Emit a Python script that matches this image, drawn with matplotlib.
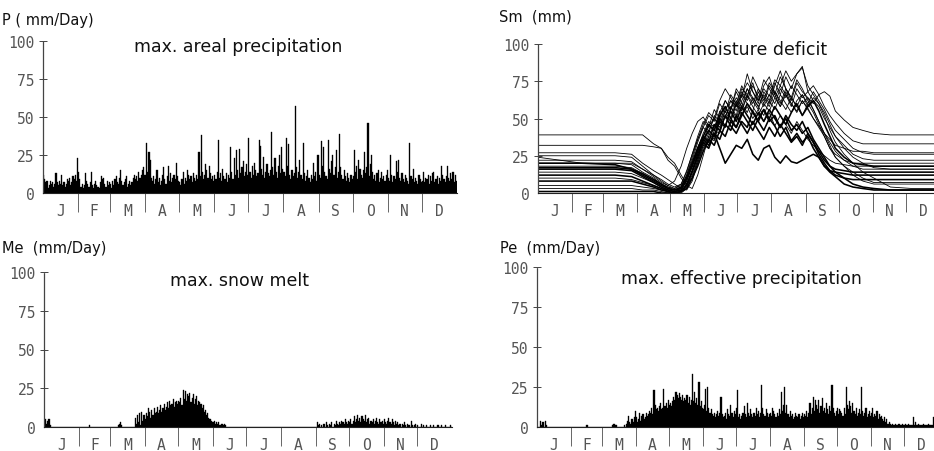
#!/usr/bin/env python3
"""Daily maxima of areal precipitation, snow melt, effective precipitation
and the soil moisture deficit traces, drawn as four panels."""

import numpy as np
import matplotlib
matplotlib.use("Agg")
import matplotlib.pyplot as plt

FIG_W, FIG_H = 934, 452

MONTHS = ['J', 'F', 'M', 'A', 'M', 'J', 'J', 'A', 'S', 'O', 'N', 'D']
MONTH_DAYS = [31, 28, 31, 30, 31, 30, 31, 31, 30, 31, 30, 31]
Y_TICKS = [0, 25, 50, 75, 100]

# max. areal precipitation (mm/day), one list per month
precip = [
    [12, 9, 7, 8, 3, 5, 8, 6, 7, 4, 6, 13, 7, 5, 8, 6, 12, 5, 7, 4, 6, 9, 8, 10, 5, 7, 11, 9, 12, 8, 23],
    [14, 9, 4, 6, 3, 5, 13, 8, 6, 4, 7, 14, 5, 3, 6, 8, 5, 4, 3, 7, 11, 9, 10, 6, 4, 8, 5, 7],
    [6, 3, 8, 5, 9, 11, 7, 6, 10, 15, 8, 5, 7, 9, 11, 4, 6, 8, 5, 7, 10, 12, 9, 11, 8, 14, 10, 12, 15, 17, 12],
    [12, 33, 14, 27, 22, 10, 8, 11, 6, 9, 15, 7, 10, 5, 8, 12, 17, 9, 6, 11, 18, 8, 13, 7, 10, 12, 9, 20, 11, 8],
    [7, 5, 9, 14, 6, 10, 8, 15, 12, 9, 11, 7, 13, 10, 8, 12, 9, 27, 11, 38, 14, 9, 12, 19, 15, 10, 18, 13, 9, 11, 8],
    [12, 9, 14, 35, 10, 13, 8, 16, 11, 9, 13, 7, 12, 10, 30, 14, 9, 23, 12, 28, 15, 10, 29, 13, 17, 21, 11, 14, 19, 12],
    [36, 14, 10, 18, 12, 20, 15, 11, 13, 35, 31, 16, 12, 24, 10, 14, 19, 13, 11, 15, 40, 17, 12, 23, 14, 10, 18, 25, 13, 30, 16],
    [14, 11, 36, 18, 32, 12, 9, 15, 11, 13, 57, 17, 10, 14, 22, 12, 9, 33, 13, 8, 11, 15, 10, 7, 12, 9, 20, 11, 14, 8, 25],
    [12, 10, 34, 18, 30, 14, 11, 9, 35, 16, 13, 21, 25, 12, 17, 28, 10, 14, 39, 17, 12, 9, 15, 11, 8, 13, 10, 7, 12, 9],
    [11, 28, 14, 18, 9, 22, 16, 12, 10, 15, 27, 13, 17, 46, 11, 19, 25, 14, 9, 12, 8, 13, 15, 7, 10, 14, 9, 11, 8, 12, 15],
    [10, 8, 25, 12, 7, 11, 9, 21, 14, 22, 10, 8, 13, 9, 7, 12, 10, 8, 6, 33, 11, 9, 16, 7, 10, 8, 6, 12, 9, 7],
    [8, 14, 7, 10, 9, 12, 6, 11, 8, 13, 14, 7, 9, 11, 6, 10, 8, 18, 12, 9, 7, 11, 18, 10, 8, 13, 9, 14, 7, 12, 8],
]

# max. snow melt (mm/day)
melt = [
    [4, 5, 2, 4, 5, 1] + [0] * 25,
    [0] * 9 + [1] + [0] * 18,
    [0] * 7 + [1, 2, 3, 1, 0] + [0] * 10 + [6, 2, 8, 3, 9, 1, 10, 4, 8],
    [5, 9, 7, 12, 10, 6, 11, 8, 12, 9, 10, 13, 9, 11, 14, 10, 12, 15, 11, 13, 16, 12, 17, 14, 15, 18, 13, 16, 17, 15],
    [17, 16, 19, 14, 24, 18, 23, 17, 21, 20, 22, 16, 19, 21, 15, 18, 20, 14, 17, 16, 15, 12, 14, 10, 11, 8, 9, 6, 5, 4, 3],
    [3, 4, 2, 3, 2, 3, 1, 2, 2, 1, 2, 1] + [0] * 18,
    [0] * 31,
    [0] * 31,
    [0, 3, 1, 2, 0, 1, 0, 2, 0, 3, 1, 0, 2, 1, 3, 0, 2, 1, 4, 2, 1, 3, 2, 4, 3, 2, 5, 3, 2, 4],
    [3, 5, 2, 4, 7, 3, 5, 8, 4, 6, 3, 7, 5, 4, 8, 3, 5, 6, 2, 4, 3, 5, 2, 4, 6, 3, 2, 5, 3, 4, 2],
    [5, 3, 2, 4, 6, 3, 2, 5, 3, 1, 4, 2, 3, 1, 2, 0, 2, 1, 3, 1, 0, 2, 1, 0, 4, 1, 0, 1, 2, 0],
    [1, 0, 0, 2, 0, 1, 0, 0, 1, 0, 0, 1, 0, 0, 1, 0, 0, 0, 1, 0, 0, 1, 0, 0, 0, 1, 0, 0, 0, 1, 0],
]

# max. effective precipitation (mm/day)
eff_precip = [
    [0, 0, 0, 4, 1, 3, 0, 4, 1] + [0] * 22,
    [0] * 14 + [1] + [0] * 13,
    [0] * 9 + [1, 2, 2, 1, 1] + [0] * 6 + [1, 0, 2, 4, 7, 3, 2, 5, 3, 6, 10],
    [6, 3, 5, 9, 4, 7, 8, 5, 6, 9, 7, 8, 10, 9, 12, 8, 23, 14, 11, 12, 10, 13, 15, 11, 12, 24, 13, 15, 12, 17],
    [14, 15, 13, 16, 19, 17, 22, 20, 18, 21, 19, 17, 20, 16, 18, 17, 20, 15, 19, 14, 17, 33, 16, 22, 15, 18, 14, 28, 13, 16, 12],
    [11, 14, 24, 10, 25, 12, 9, 11, 8, 7, 9, 6, 8, 10, 7, 9, 19, 8, 6, 7, 9, 5, 11, 8, 7, 14, 9, 6, 10, 8],
    [12, 23, 6, 8, 5, 7, 9, 13, 8, 6, 15, 9, 7, 11, 8, 6, 9, 7, 12, 8, 10, 6, 9, 26, 12, 8, 7, 11, 9, 6, 8],
    [9, 7, 12, 10, 8, 6, 9, 7, 11, 8, 22, 10, 14, 25, 9, 14, 8, 6, 10, 7, 8, 5, 6, 9, 7, 6, 8, 5, 7, 9, 6],
    [8, 7, 10, 6, 9, 15, 8, 12, 19, 10, 17, 14, 11, 17, 9, 13, 18, 10, 12, 9, 15, 11, 8, 13, 10, 26, 12, 9, 7, 10],
    [12, 8, 11, 10, 9, 7, 12, 8, 25, 14, 11, 16, 13, 9, 15, 10, 8, 12, 7, 9, 11, 8, 25, 10, 7, 9, 12, 6, 8, 10, 7],
    [9, 12, 6, 8, 7, 10, 5, 8, 6, 7, 5, 4, 6, 3, 5, 2, 3, 2, 1, 2, 1, 1, 2, 1, 1, 2, 1, 1, 2, 1],
    [1, 2, 1, 1, 2, 1, 1, 1, 6, 1, 3, 1, 1, 2, 1, 1, 1, 2, 1, 1, 1, 1, 2, 1, 1, 1, 6, 1, 1, 2, 1],
]

# soil moisture deficit traces (mm), read at these days of the year
sm_days = [0, 40, 70, 85, 95, 105, 112, 118, 124, 130, 135, 140, 145, 150, 155,
           160, 165, 170, 175, 180, 185, 190, 195, 200, 205, 210, 215, 220, 225,
           230, 235, 240, 245, 250, 255, 260, 265, 270, 278, 286, 295, 305, 320,
           340, 365]

sm_thin = [
    [39, 39, 39, 39, 39, 33, 30, 24, 20, 12, 6, 10, 22, 35, 45, 42, 55, 50, 62, 58, 70, 66, 74, 62, 70, 65, 76, 72, 82, 75, 80, 85, 68, 72, 66, 68, 65, 55, 49, 44, 42, 40, 39, 39, 39],
    [32, 32, 32, 32, 32, 31, 30, 22, 18, 10, 5, 3, 12, 25, 38, 35, 48, 44, 58, 52, 66, 60, 55, 68, 60, 72, 66, 78, 70, 62, 74, 68, 64, 60, 66, 58, 52, 47, 40, 35, 33, 33, 33, 33, 33],
    [27, 27, 27, 26, 20, 15, 12, 9, 6, 3, 2, 8, 20, 32, 30, 42, 40, 52, 48, 60, 55, 65, 58, 52, 60, 55, 64, 58, 66, 60, 55, 62, 57, 50, 45, 40, 36, 32, 30, 28, 28, 27, 27, 27, 27],
    [25, 25, 25, 24, 18, 12, 8, 5, 8, 18, 30, 40, 48, 51, 45, 50, 44, 55, 48, 60, 52, 58, 50, 56, 48, 54, 45, 52, 46, 40, 48, 42, 36, 32, 28, 25, 22, 20, 19, 18, 18, 18, 18, 18, 18],
    [18, 18, 18, 17, 13, 9, 6, 4, 3, 6, 15, 26, 36, 44, 40, 52, 48, 58, 50, 62, 56, 66, 60, 70, 64, 58, 68, 62, 56, 64, 58, 52, 60, 54, 46, 38, 30, 26, 22, 20, 20, 20, 20, 20, 20],
    [14, 14, 14, 13, 10, 7, 4, 2, 1, 3, 8, 18, 28, 36, 42, 50, 46, 56, 62, 55, 68, 62, 72, 65, 58, 66, 60, 70, 64, 72, 66, 60, 64, 56, 48, 40, 34, 28, 22, 18, 16, 16, 16, 16, 16],
    [10, 10, 10, 9, 7, 5, 3, 2, 1, 2, 8, 18, 30, 40, 48, 44, 54, 62, 56, 70, 64, 80, 68, 60, 72, 78, 66, 58, 68, 60, 54, 62, 56, 50, 44, 38, 30, 24, 18, 14, 10, 7, 7, 7, 7],
    [5, 5, 5, 5, 4, 3, 2, 1, 0, 0, 3, 10, 20, 30, 38, 46, 42, 52, 58, 50, 62, 70, 64, 58, 66, 60, 72, 82, 70, 64, 76, 70, 62, 56, 48, 40, 32, 24, 18, 12, 8, 6, 6, 6, 6],
    [3, 3, 3, 3, 2, 2, 1, 0, 0, 1, 4, 12, 22, 32, 40, 36, 48, 44, 56, 64, 58, 70, 62, 56, 68, 62, 74, 66, 78, 70, 80, 84, 72, 66, 60, 52, 42, 34, 26, 20, 14, 10, 4, 3, 3],
    [22, 22, 22, 21, 16, 11, 7, 5, 3, 5, 12, 22, 34, 44, 52, 48, 60, 54, 66, 60, 72, 64, 78, 70, 62, 74, 68, 60, 70, 64, 58, 66, 60, 68, 62, 56, 48, 42, 36, 30, 27, 26, 26, 26, 26],
    [20, 20, 20, 19, 14, 10, 6, 4, 2, 4, 12, 24, 36, 46, 54, 50, 62, 70, 64, 58, 66, 74, 68, 62, 76, 70, 64, 72, 66, 58, 70, 64, 68, 62, 58, 50, 44, 38, 32, 26, 23, 22, 22, 22, 22],
    [24, 20, 20, 20, 16, 12, 9, 6, 4, 6, 14, 26, 38, 48, 44, 56, 50, 62, 56, 68, 60, 54, 64, 58, 52, 62, 56, 66, 60, 54, 62, 66, 58, 64, 60, 54, 46, 38, 30, 24, 20, 17, 16, 16, 16],
]

sm_bold = [
    [20, 20, 19, 16, 12, 8, 5, 3, 2, 3, 10, 18, 28, 36, 32, 40, 30, 20, 26, 32, 30, 36, 26, 22, 30, 32, 24, 20, 25, 21, 20, 22, 24, 26, 24, 18, 14, 11, 6, 4, 3, 2, 2, 2, 2],
    [16, 16, 16, 15, 11, 7, 4, 2, 1, 2, 10, 20, 30, 38, 34, 46, 42, 52, 45, 40, 48, 44, 55, 48, 42, 50, 45, 38, 44, 35, 40, 34, 38, 30, 24, 18, 15, 14, 13, 12, 12, 12, 12, 12, 12],
    [12, 12, 12, 11, 8, 5, 3, 1, 0, 1, 6, 15, 26, 35, 42, 38, 50, 45, 55, 48, 58, 52, 46, 54, 48, 56, 50, 44, 52, 46, 42, 48, 40, 34, 28, 22, 18, 16, 15, 14, 14, 14, 14, 14, 14],
    [8, 8, 8, 8, 6, 4, 2, 1, 0, 1, 5, 14, 24, 34, 30, 40, 36, 46, 42, 52, 46, 40, 48, 42, 36, 44, 38, 46, 40, 34, 38, 32, 40, 34, 26, 20, 15, 12, 10, 9, 9, 9, 9, 9, 9],
    [1, 1, 1, 1, 1, 1, 0, 0, 0, 1, 3, 10, 18, 28, 36, 32, 42, 38, 48, 44, 54, 48, 42, 50, 56, 48, 52, 44, 50, 42, 46, 40, 44, 36, 30, 24, 18, 14, 10, 6, 4, 3, 2, 2, 2],
    [17, 17, 17, 16, 13, 9, 6, 3, 2, 4, 10, 20, 30, 38, 46, 42, 52, 58, 50, 44, 52, 60, 54, 48, 56, 50, 58, 52, 46, 54, 60, 52, 58, 62, 55, 46, 38, 30, 24, 20, 19, 18, 18, 18, 18],
]

MONO = 'DejaVu Sans Mono'
LABEL_GREY = '#555555'


def px_box(left, right, y0, y100):
    """Axes rectangle from pixel coordinates of the reference picture."""
    return [left / FIG_W, 1 - y0 / FIG_H, (right - left) / FIG_W, (y0 - y100) / FIG_H]


def setup_panel(ax):
    bounds = np.cumsum([0] + MONTH_DAYS)
    centers = (bounds[:-1] + bounds[1:]) / 2
    ax.set_xlim(0, 365)
    ax.set_ylim(0, 100)
    ax.patch.set_visible(False)
    ax.spines['top'].set_visible(False)
    ax.spines['right'].set_visible(False)
    ax.spines['left'].set_linestyle((0, (1, 1)))
    ax.spines['left'].set_color('#444444')
    ax.spines['left'].set_linewidth(0.9)
    ax.spines['bottom'].set_color('#222222')
    ax.spines['bottom'].set_linewidth(0.8)

    ax.set_yticks(Y_TICKS)
    ax.set_yticklabels([str(v) for v in Y_TICKS])
    ax.tick_params(axis='y', direction='inout', length=6, width=0.7, pad=3,
                   color='#444444', labelsize=10.5, labelcolor=LABEL_GREY,
                   labelfontfamily=MONO)
    ax.yaxis.get_major_ticks()[0].tick1line.set_visible(False)

    ax.set_xticks(centers)
    ax.set_xticklabels(MONTHS)
    ax.set_xticks(bounds[1:-1], minor=True)
    ax.tick_params(axis='x', which='major', length=0, pad=7, labelsize=10.5,
                   labelcolor=LABEL_GREY, labelfontfamily=MONO)
    ax.tick_params(axis='x', which='minor', direction='out', length=14,
                   width=0.7, color='#666666')


def draw_bars(ax, monthly):
    values = np.concatenate([np.asarray(m, dtype=float) for m in monthly])
    days = np.arange(len(values)) + 0.5
    ax.bar(days, values, width=1.0, color='black', edgecolor='black', linewidth=0.25)


def fig_text(x, y, s, **kw):
    plt.gcf().text(x / FIG_W, 1 - y / FIG_H, s, **kw)


def main():
    fig = plt.figure(figsize=(FIG_W / 100, FIG_H / 100), dpi=100)

    ax_p = fig.add_axes(px_box(43, 457, 194, 42))
    ax_sm = fig.add_axes(px_box(538, 940, 194, 45))
    ax_me = fig.add_axes(px_box(44, 452, 428, 273))
    ax_pe = fig.add_axes(px_box(537, 938, 428, 268))

    for ax in (ax_p, ax_sm, ax_me, ax_pe):
        setup_panel(ax)

    draw_bars(ax_p, precip)
    draw_bars(ax_me, melt)
    draw_bars(ax_pe, eff_precip)

    for line in sm_thin:
        ax_sm.plot(sm_days, line, color='black', linewidth=0.6)
    for line in sm_bold:
        ax_sm.plot(sm_days, line, color='black', linewidth=1.15)

    title_kw = dict(ha='center', va='center', fontsize=12.5, color='#111111')
    fig_text(238, 47, 'max. areal precipitation', **title_kw)
    fig_text(741, 50, 'soil moisture deficit', **title_kw)
    fig_text(240, 281, 'max. snow melt', **title_kw)
    fig_text(741, 279, 'max. effective precipitation', **title_kw)

    unit_kw = dict(ha='left', va='center', fontsize=10.5, color='#111111')
    fig_text(2, 20, 'P ( mm/Day)', **unit_kw)
    fig_text(499, 17, 'Sm  (mm)', **unit_kw)
    fig_text(2, 249, 'Me  (mm/Day)', **unit_kw)
    fig_text(500, 249, 'Pe  (mm/Day)', **unit_kw)

    fig.savefig('out.png', dpi=100)
    plt.close(fig)


if __name__ == "__main__":
    main()
